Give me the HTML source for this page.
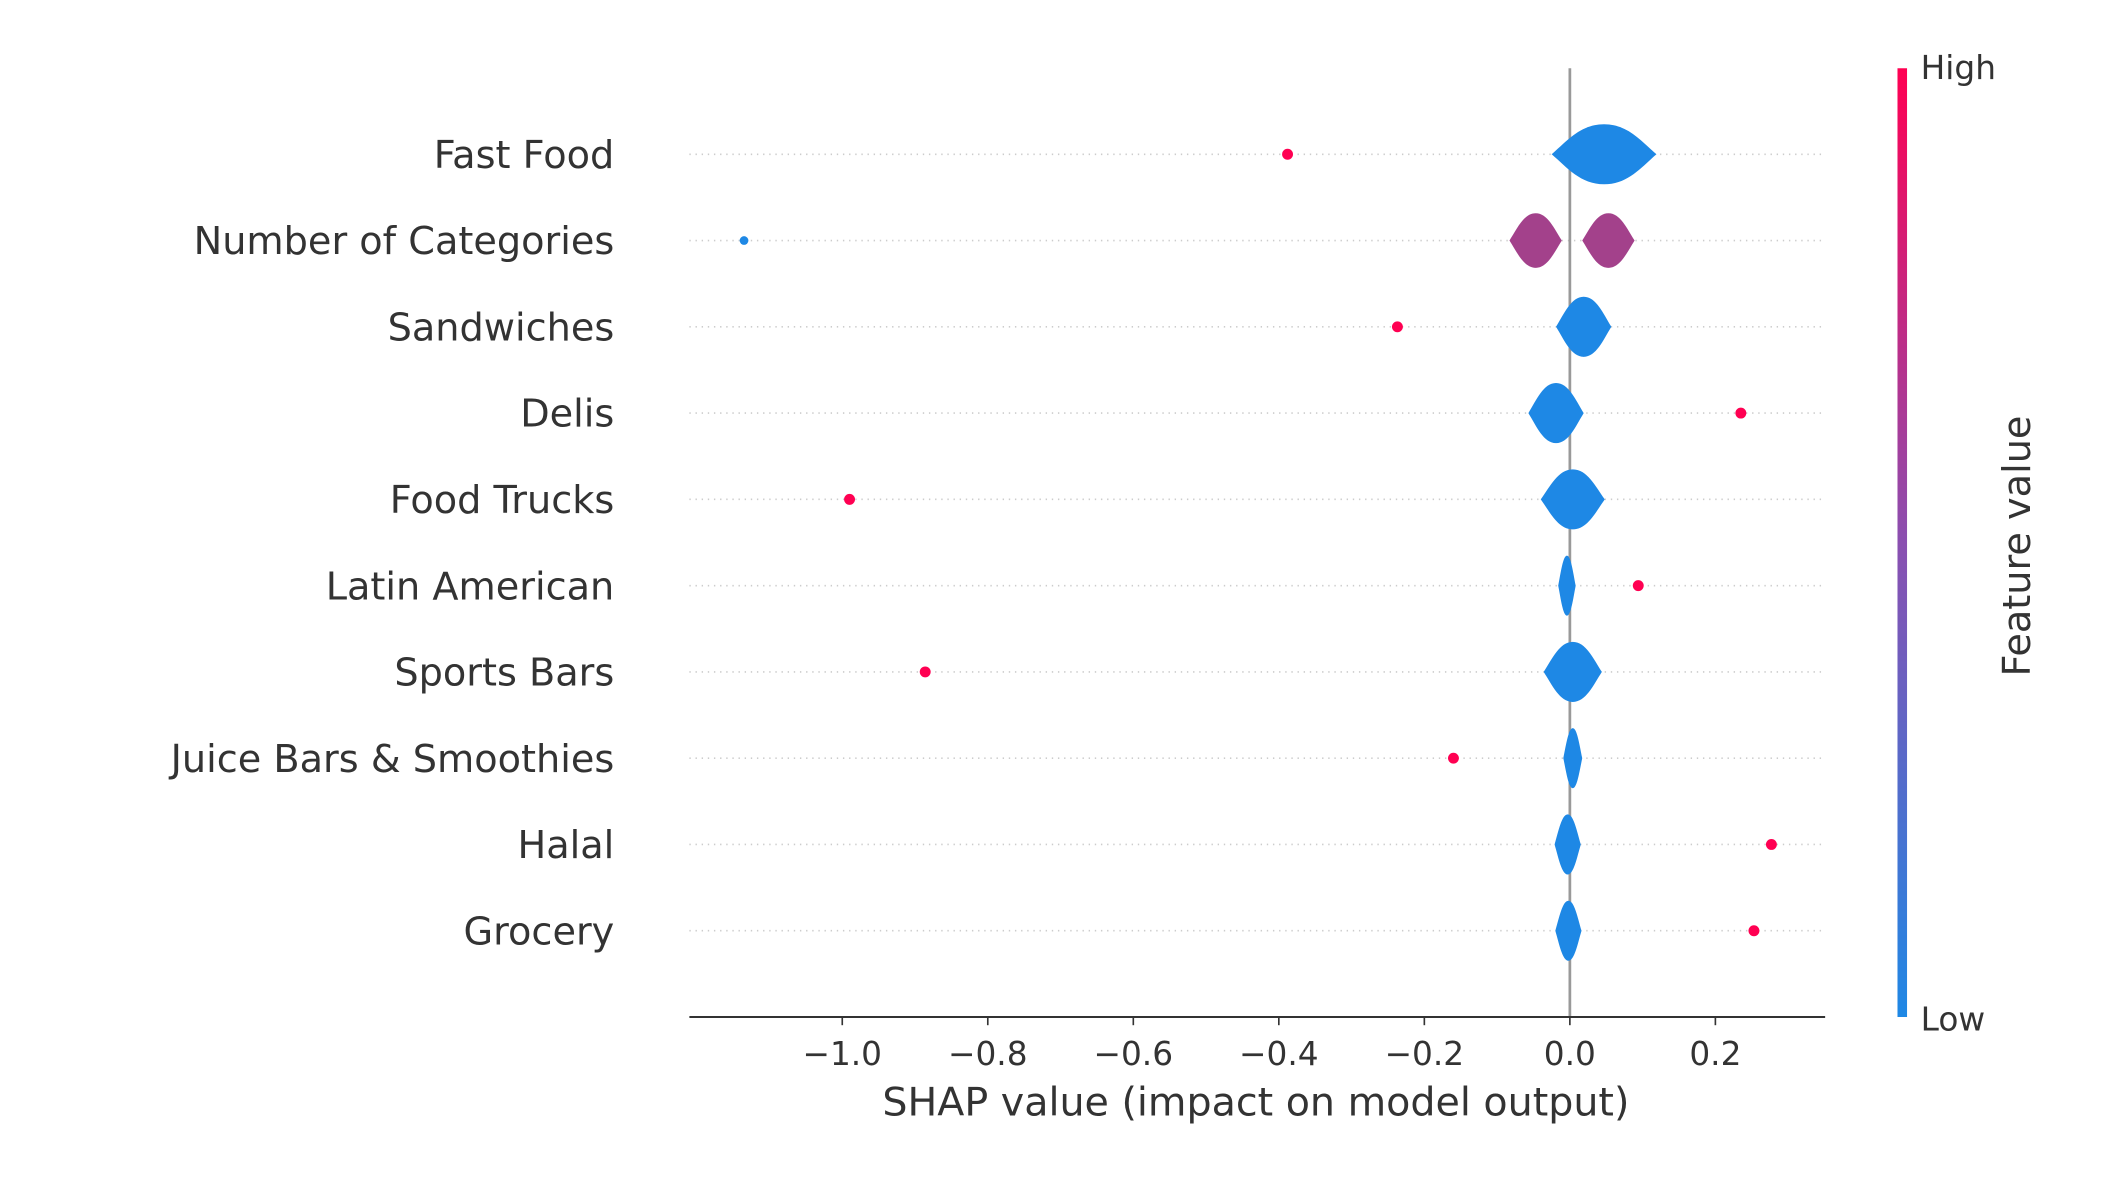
<!DOCTYPE html>
<html><head><meta charset="utf-8"><style>
html,body{margin:0;padding:0;background:#fff;}
svg{display:block;font-family:"DejaVu Sans","Liberation Sans",sans-serif;}
</style></head><body>
<svg id="chart" width="2120" height="1180" viewBox="0 0 1553 864.4" preserveAspectRatio="none" xmlns="http://www.w3.org/2000/svg">
<defs>
<linearGradient id="cbar" x1="0" y1="1" x2="0" y2="0">
<stop offset="0" stop-color="#1E88E5"/>
<stop offset="0.5" stop-color="#8a4fb0"/>
<stop offset="1" stop-color="#FF0052"/>
</linearGradient>
</defs>
<g id="plot"></g>
</svg>
<script>
const features = ["Fast Food","Number of Categories","Sandwiches","Delis","Food Trucks","Latin American","Sports Bars","Juice Bars & Smoothies","Halal","Grocery"];
const outlierValues = [-0.388,-1.135,-0.237,0.235,-0.99,0.094,-0.886,-0.160,0.277,0.253];
const outlierHigh = [true,false,true,true,true,true,true,true,true,true];
const violinCenters = [0.047,0.019,-0.019,0.004,-0.004,0.004,0.004,-0.003,-0.002];
const violinHalfWidths = [0.072,0.038,0.038,0.044,0.012,0.040,0.013,0.018,0.018];
const violinRows = [0,2,3,4,5,6,7,8,9];
const splitCenters = [-0.047,0.053];
const splitHalfWidth = 0.036;
const xTicks = [-1.0,-0.8,-0.6,-0.4,-0.2,0.0,0.2];
const xTickLabels = ["\u22121.0","\u22120.8","\u22120.6","\u22120.4","\u22120.2","0.0","0.2"];

const NS="http://www.w3.org/2000/svg";
const g=document.getElementById('plot');
const X0=1150, PX=533;
const x=v=>X0+v*PX;
const y=i=>113+i*63.2;
function el(t,a,p){const e=document.createElementNS(NS,t);for(const k in a)e.setAttribute(k,a[k]);(p||g).appendChild(e);return e;}
function violin(c,w,yy,h,fill){
  const l=x(c-w), r=x(c+w), m=x(c);
  const d=`M${l},${yy} C${l+(m-l)*0.3},${yy-h*0.45} ${m-(m-l)*0.45},${yy-h} ${m},${yy-h} C${m+(r-m)*0.45},${yy-h} ${r-(r-m)*0.3},${yy-h*0.45} ${r},${yy} C${r-(r-m)*0.3},${yy+h*0.45} ${m+(r-m)*0.45},${yy+h} ${m},${yy+h} C${m-(m-l)*0.45},${yy+h} ${l+(m-l)*0.3},${yy+h*0.45} ${l},${yy} Z`;
  return el('path',{d,fill});
}
features.forEach((f,i)=>{
  const ln=el('line',{x1:505,x2:1335,y1:y(i),y2:y(i),stroke:'#cccccc','stroke-width':1.2,'stroke-dasharray':'1 3.5'});
  
  
  const t=el('text',{x:450,y:y(i)+10,'text-anchor':'end','font-size':28,fill:'#333'});
  t.textContent=f;
  
  
});
const zl=el('line',{x1:x(0),x2:x(0),y1:50,y2:745,stroke:'#999','stroke-width':2});


violinRows.forEach((r,k)=>{
  const v=violin(violinCenters[k],violinHalfWidths[k],y(r),22,'#1E88E5');
  
  
});
splitCenters.forEach(c=>{
  const v=violin(c,splitHalfWidth,y(1),20,'#a3418b');
  
  
});
outlierValues.forEach((v,i)=>{
  const c=el('circle',{cx:x(v),cy:y(i),r:outlierHigh[i]?4:3.2,fill:outlierHigh[i]?'#FF0052':'#1E88E5'});
  
  
});
const ax=el('line',{x1:505,x2:1337,y1:745,y2:745,stroke:'#333','stroke-width':1.5});


xTicks.forEach((t,i)=>{
  const tk=el('line',{x1:x(t),x2:x(t),y1:745,y2:751,stroke:'#333','stroke-width':1.2});
  
  
  const tl=el('text',{x:x(t),y:780,'text-anchor':'middle','font-size':24,fill:'#333'});
  tl.textContent=xTickLabels[i];
  
  
});
const xl=el('text',{x:920,y:817,'text-anchor':'middle','font-size':29,fill:'#333'});
xl.textContent='SHAP value (impact on model output)';


const cb=el('rect',{x:1390,y:50,width:7,height:695,fill:'url(#cbar)'});


const hi=el('text',{x:1407,y:58,'font-size':24,fill:'#333'});hi.textContent='High';


const lo=el('text',{x:1407,y:755,'font-size':24,fill:'#333'});lo.textContent='Low';


const fv=el('text',{x:1487,y:400,'text-anchor':'middle','font-size':28,fill:'#333',transform:'rotate(-90 1487 400)'});
fv.textContent='Feature value';


</script>
</body></html>
